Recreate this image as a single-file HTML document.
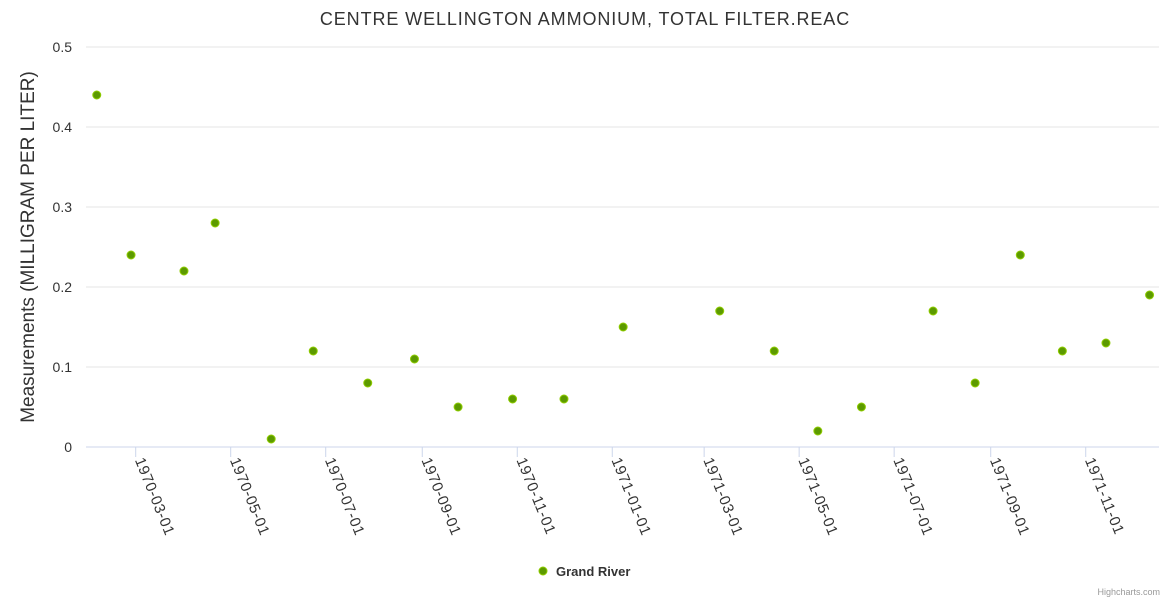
<!DOCTYPE html>
<html><head><meta charset="utf-8"><style>
body{margin:0;background:#fff;}
svg{font-family:"Liberation Sans",sans-serif;display:block}
</style></head><body>
<svg id="chart" width="1170" height="600">
<text x="585" y="25" text-anchor="middle" font-size="18" letter-spacing="0.9" fill="#333">CENTRE WELLINGTON AMMONIUM, TOTAL FILTER.REAC</text>
<text transform="translate(34,247) rotate(-90)" text-anchor="middle" font-size="19" fill="#333">Measurements (MILLIGRAM PER LITER)</text>
<g id="grid"></g><g id="xaxis"></g><g id="pts"></g>
<g>
<circle cx="543" cy="571" r="4" fill="#5c9a00" stroke="#8fcc00" stroke-width="1"/>
<text x="556" y="576" font-size="13" font-weight="bold" fill="#333">Grand River</text></g>
<text x="1160" y="595" text-anchor="end" font-size="9" fill="#999">Highcharts.com</text>
</svg>
<script>
const dates=["1970-02-04","1970-02-26","1970-04-01","1970-04-21","1970-05-27","1970-06-23","1970-07-28","1970-08-27","1970-09-24","1970-10-29","1970-12-01","1971-01-08","1971-03-11","1971-04-15","1971-05-13","1971-06-10","1971-07-26","1971-08-22","1971-09-20","1971-10-17","1971-11-14","1971-12-12"];
const values=[0.44,0.24,0.22,0.28,0.01,0.12,0.08,0.11,0.05,0.06,0.06,0.15,0.17,0.12,0.02,0.05,0.17,0.08,0.24,0.12,0.13,0.19];
const xTicks=["1970-03-01","1970-05-01","1970-07-01","1970-09-01","1970-11-01","1971-01-01","1971-03-01","1971-05-01","1971-07-01","1971-09-01","1971-11-01"];
const yTicks=[0,0.1,0.2,0.3,0.4,0.5];
const NS="http://www.w3.org/2000/svg";
const day=s=>Date.parse(s)/86400000;
const X=s=>135.7+(day(s)-59)*1.5574;
const Y=v=>447-v*800;
function mk(t,a,p){const e=document.createElementNS(NS,t);for(const k in a)e.setAttribute(k,a[k]);p.appendChild(e);return e;}
const g=document.getElementById('grid'),xa=document.getElementById('xaxis'),pg=document.getElementById('pts');
yTicks.forEach(v=>{
 const l=mk('line',{x1:86,x2:1159,y1:Y(v),y2:Y(v),stroke:v===0?'#ccd6eb':'#e6e6e6'},g);
 
 
 const t=mk('text',{x:72,y:Y(v)+5,'text-anchor':'end','font-size':14,fill:'#333'},g);
 t.textContent=String(v);
 
 
});
xTicks.forEach(s=>{
 const x=X(s);
 const l=mk('line',{x1:x,x2:x,y1:447,y2:457,stroke:'#ccd6eb'},xa);
 
 
 const t=mk('text',{x:0,y:0,'font-size':15,'letter-spacing':0.6,fill:'#333',transform:`translate(${x-1},${460}) rotate(68)`},xa);
 t.textContent=s;
 
 
});
dates.forEach((s,i)=>{
 const c=mk('circle',{cx:X(s),cy:Y(values[i]),r:4,fill:'#5c9a00',stroke:'#8fcc00','stroke-width':1},pg);
 
 
});
</script>
</body></html>
